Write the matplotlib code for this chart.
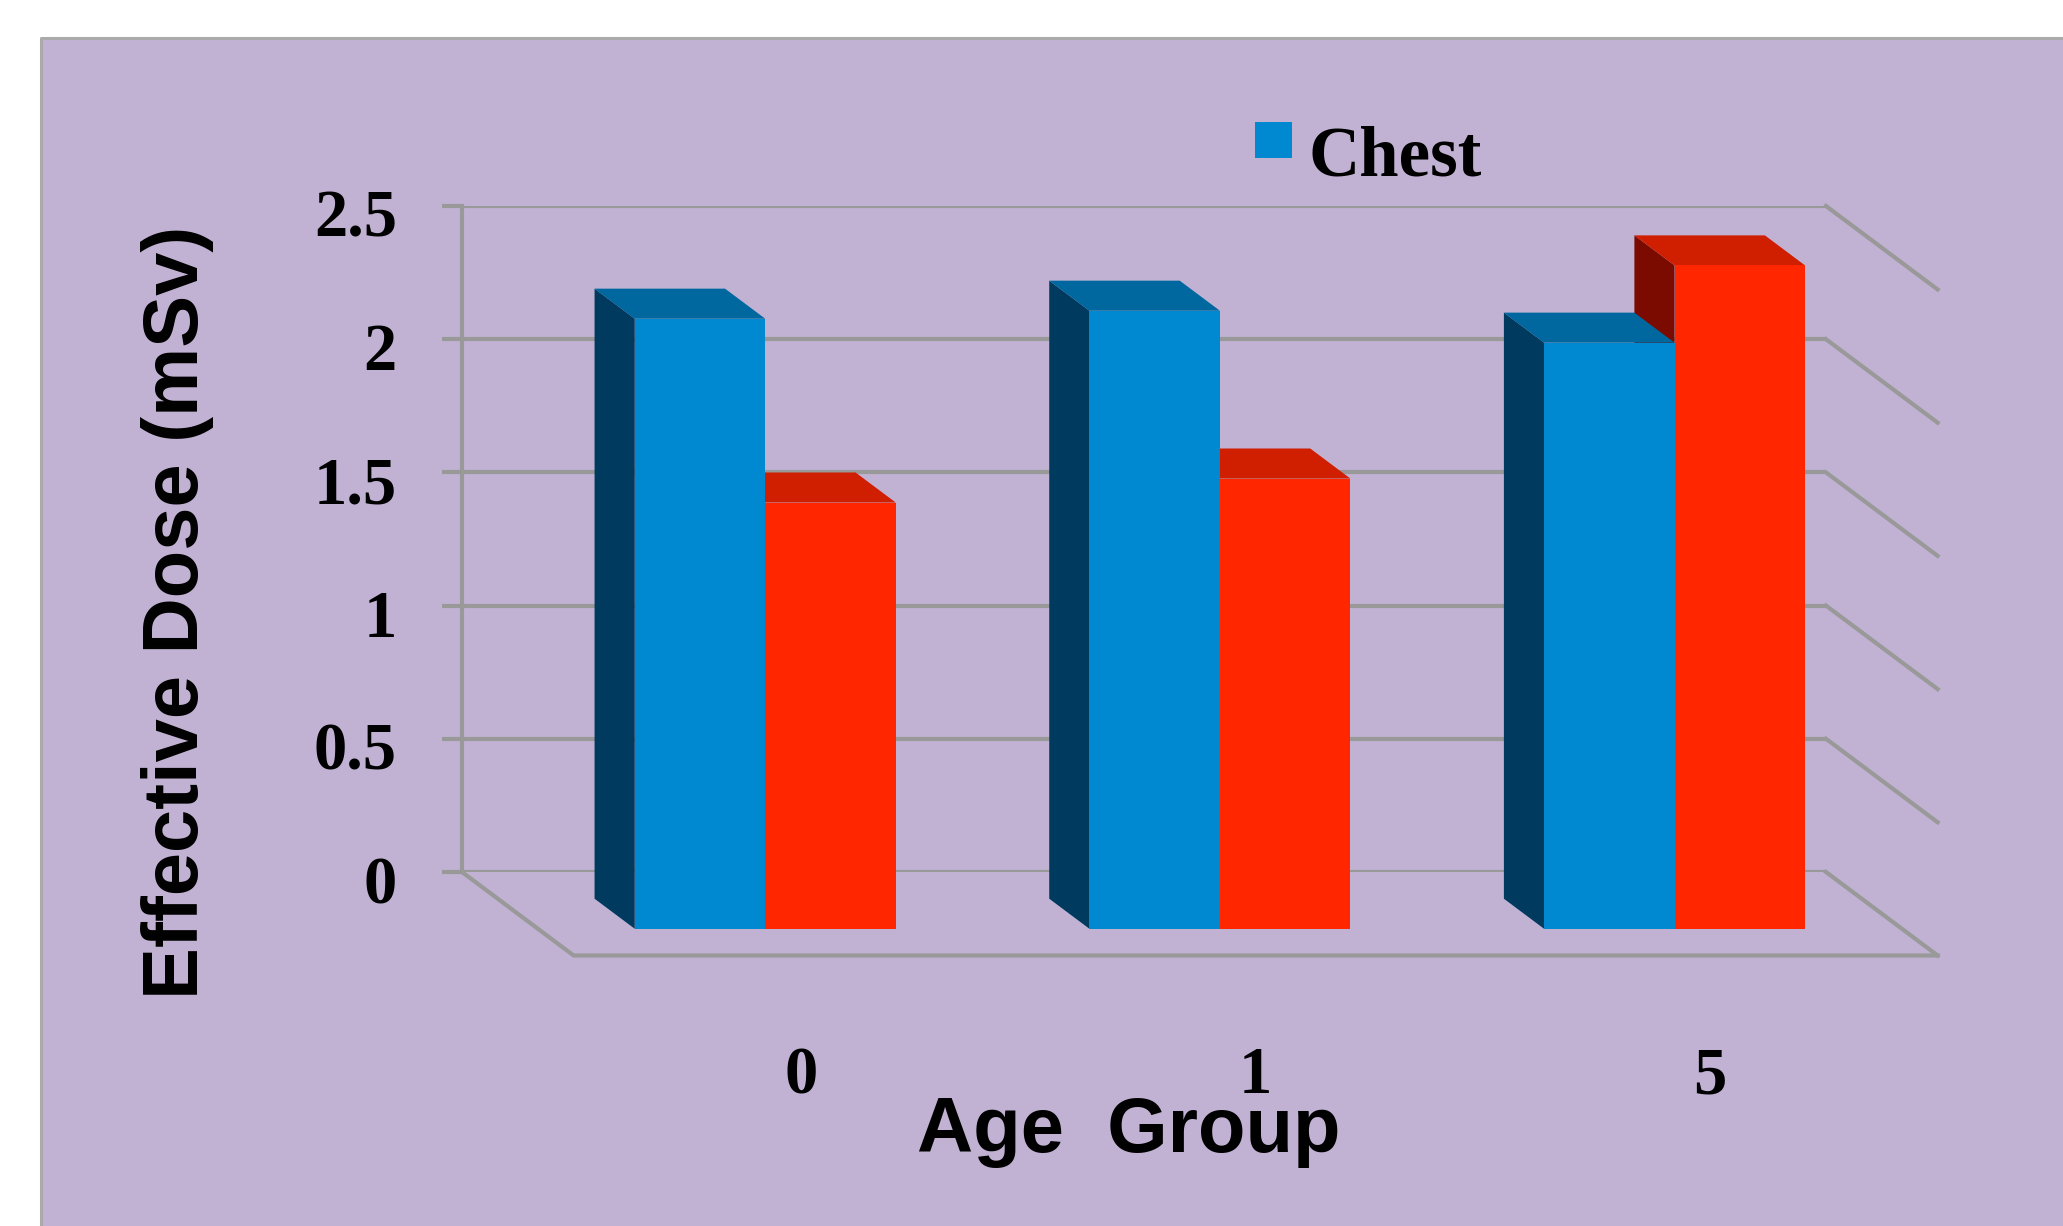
import matplotlib
matplotlib.use("Agg")
import matplotlib.pyplot as plt
from matplotlib.patches import Polygon, Rectangle
from matplotlib.lines import Line2D
from matplotlib.transforms import ScaledTranslation

# data
age_groups = ["0", "1", "5"]
chest_dose = [2.29, 2.32, 2.20]
other_dose = [1.60, 1.69, 2.49]
y_ticks = [0, 0.5, 1, 1.5, 2, 2.5]
y_tick_labels = ["0", "0.5", "1", "1.5", "2", "2.5"]

W, H = 2063, 1226
fig = plt.figure(figsize=(W / 100, H / 100), dpi=100)
fig.patch.set_facecolor("white")


def fx(px):
    return px / W


def fy(py):
    return 1 - py / H


# lilac panel behind the chart
panel_col = "#C1B2D3"
fig.add_artist(Rectangle((fx(41), 0), 1 - fx(41), fy(38), transform=fig.transFigure,
                         facecolor=panel_col, edgecolor="none", zorder=0))
fig.add_artist(Line2D([fx(41), fx(41), 1], [0, fy(38), fy(38)], transform=fig.transFigure,
                      color="#AAAAAA", lw=2.2, zorder=1))

grid_col = "#999999"
lw = 3.0

ax = fig.add_axes([fx(462), fy(872), fx(1826) - fx(462), fy(206) - fy(872)])
ax.set_xlim(-0.5, len(age_groups) - 0.5)
ax.set_ylim(0, 2.5)
ax.patch.set_alpha(0)
for s in ["top", "right", "bottom"]:
    ax.spines[s].set_visible(False)
ax.spines["left"].set_color(grid_col)
ax.spines["left"].set_linewidth(lw)
ax.set_xticks([])
ax.set_yticks(y_ticks)
ax.tick_params(axis="y", length=14.5, width=lw, color=grid_col, labelleft=False)

# oblique depth: back wall -> front edge of floor
DX, DY = 0.2455, 0.3134
d_back, d_front = 0.32, 0.68
bw = 0.287


def proj(x, h, d):
    return (x + d * DX, h - d * DY)


x0, x1 = -0.5, len(age_groups) - 0.5
for v in y_ticks:
    ax.plot([x0, x1], [v, v], color=grid_col, lw=lw, zorder=1, solid_capstyle="butt")
    p = proj(x1, v, 1)
    ax.plot([x1, p[0]], [v, p[1]], color=grid_col, lw=lw, zorder=1, clip_on=False)
fl = proj(x0, 0, 1)
fr = proj(x1, 0, 1)
ax.plot([x0, fl[0], fr[0]], [0, fl[1], fr[1]], color=grid_col, lw=lw, zorder=1, clip_on=False)


def box_faces(x, w, h):
    front = [proj(x, 0, d_front), proj(x + w, 0, d_front), proj(x + w, h, d_front), proj(x, h, d_front)]
    top = [proj(x, h, d_front), proj(x + w, h, d_front), proj(x + w, h, d_back), proj(x, h, d_back)]
    side = [proj(x, 0, d_front), proj(x, h, d_front), proj(x, h, d_back), proj(x, 0, d_back)]
    return front, top, side


blue = {"front": "#0088D0", "top": "#00679F", "side": "#003A5F"}
red = {"front": "#FF2600", "top": "#CF1E00", "side": "#7B0A00"}


def face(pts, c, z):
    ax.add_patch(Polygon(pts, closed=True, facecolor=c, edgecolor="none", zorder=z, clip_on=False))


for i in range(len(age_groups)):
    bf, bt, bs = box_faces(i - bw, bw, chest_dose[i])
    rf, rt, rs = box_faces(i, bw, other_dose[i])
    face(rs, red["side"], 2)
    face(rt, red["top"], 3)
    face(bs, blue["side"], 4)
    face(bt, blue["top"], 5)
    face(bf, blue["front"], 6)
    face(rf, red["front"], 7)

serif = ["Liberation Serif", "DejaVu Serif"]
sans = ["Liberation Sans", "DejaVu Sans"]

# value labels on the left
for v, lab in zip(y_ticks, y_tick_labels):
    off = ScaledTranslation(-65 / 100, -31 / 100, fig.dpi_scale_trans)
    ax.text(x0, v, lab, transform=ax.transData + off, ha="right", va="baseline",
            fontsize=48, fontweight="bold", family=serif)

# category labels under the floor
for i, lab in enumerate(age_groups):
    p = proj(i, 0, 1)
    off = ScaledTranslation(0, -138 / 100, fig.dpi_scale_trans)
    ax.text(p[0], p[1], lab, transform=ax.transData + off, ha="center", va="baseline",
            fontsize=48, fontweight="bold", family=serif)

fig.text(fx(1129), fy(1152), "Age  Group", ha="center", va="baseline",
         fontsize=56, fontweight="bold", family=sans)
fig.text(fx(178), fy(612), "Effective Dose (mSv)", rotation=90, ha="center", va="center",
         fontsize=56, fontweight="bold", family=sans)

# legend
fig.add_artist(Rectangle((fx(1255), fy(158)), fx(1292) - fx(1255), fy(122) - fy(158),
                         transform=fig.transFigure, facecolor=blue["front"], edgecolor="none"))
fig.text(fx(1308), fy(175), "Chest", ha="left", va="baseline",
         fontsize=51, fontweight="bold", family=serif)

fig.savefig("out.png", dpi=100, facecolor=fig.get_facecolor())
